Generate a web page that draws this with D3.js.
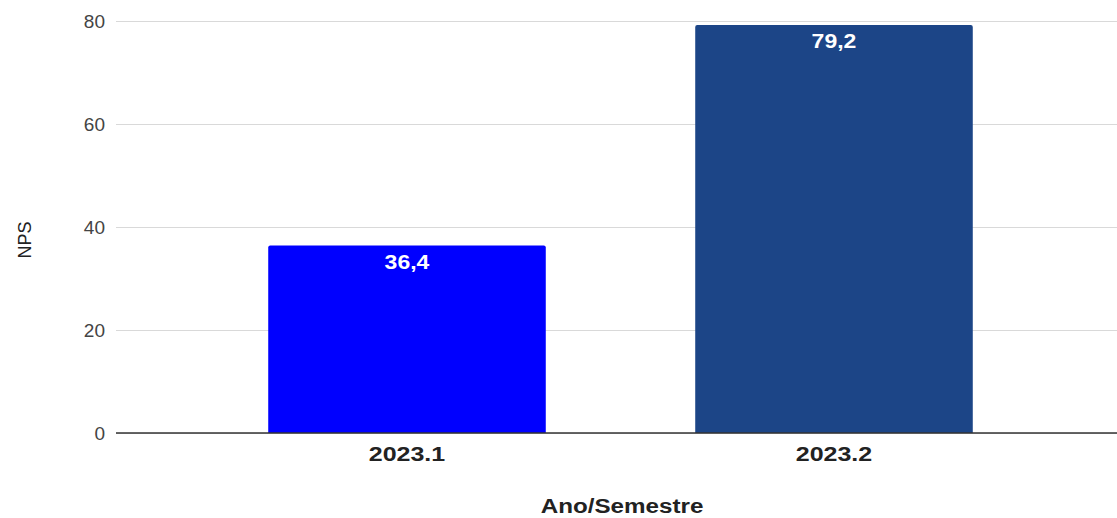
<!DOCTYPE html>
<html>
<head>
<meta charset="utf-8">
<script src="https://cdn.jsdelivr.net/npm/d3@7"></script>
<style>
  body { margin: 0; background: #fff; }
  text { font-family: "Liberation Sans", Arial, sans-serif; }
</style>
</head>
<body>
<div id="chart"></div>
<script>
// data
let categories = ["2023.1", "2023.2"];
let values = [36.4, 79.2];
let labels = ["36,4", "79,2"];
let barColors = ["#0000ff", "#1c4587"];
let yTicks = [0, 20, 40, 60, 80];

let W = 1117, H = 518;
let plot = {left: 116, right: 1117, top: 21, bottom: 433};

let svg = d3.select("#chart")
  .append("svg")
  .attr("width", W)
  .attr("height", H);

let y = d3.scaleLinear()
  .domain([0, 80])
  .range([plot.bottom, plot.top]);

let x = d3.scaleBand()
  .domain(categories)
  .range([193.5, 1047.5])
  .paddingInner(0.35)
  .paddingOuter(0.175);

// gridlines + y labels
let yAxis = svg.append("g")
  .attr("transform", "translate(" + plot.left + ",0)")
  .call(d3.axisLeft(y).tickValues(yTicks).tickSize(-(plot.right - plot.left)).tickPadding(11));
yAxis.select(".domain").remove();
yAxis.selectAll(".tick line").attr("stroke", "#d9d9d9").attr("stroke-width", 1);
yAxis.selectAll(".tick text")
  .attr("fill", "#444")
  .style("font-size", "19px");

// bars with slightly rounded tops
let r = 2;
svg.append("g")
  .selectAll("path")
  .data(values)
  .enter().append("path")
  .attr("d", function (d, i) {
    let x0 = x(categories[i]), x1 = x0 + x.bandwidth();
    let y0 = y(d), y1 = y(0);
    return "M" + x0 + "," + y1 + "L" + x0 + "," + (y0 + r) +
      "Q" + x0 + "," + y0 + " " + (x0 + r) + "," + y0 +
      "L" + (x1 - r) + "," + y0 +
      "Q" + x1 + "," + y0 + " " + x1 + "," + (y0 + r) +
      "L" + x1 + "," + y1 + "Z";
  })
  .style("fill", function (d, i) { return barColors[i]; });

// value labels (text in the reference is a bit stretched sideways)
svg.append("g")
  .selectAll("text")
  .data(values)
  .enter().append("text")
  .attr("transform", function (d, i) {
    return "translate(" + (x(categories[i]) + x.bandwidth() / 2) + "," + (y(d) + 23) + ") scale(1.15,1)";
  })
  .attr("text-anchor", "middle")
  .attr("fill", "#fff")
  .style("font-size", "20px")
  .style("font-weight", "bold")
  .text(function (d, i) { return labels[i]; });

// baseline
svg.append("line")
  .attr("x1", plot.left).attr("x2", plot.right)
  .attr("y1", y(0)).attr("y2", y(0))
  .attr("stroke", "#333").attr("stroke-width", 1.5);

// x axis labels
let xAxis = svg.append("g")
  .attr("transform", "translate(0," + plot.bottom + ")")
  .call(d3.axisBottom(x).tickSize(0).tickPadding(13));
xAxis.select(".domain").remove();
xAxis.selectAll(".tick text")
  .attr("fill", "#222")
  .attr("transform", "scale(1.19,1)")
  .style("font-size", "21px")
  .style("font-weight", "bold");

// axis titles
svg.append("text")
  .attr("transform", "translate(622,513) scale(1.21,1)")
  .attr("text-anchor", "middle")
  .attr("fill", "#222")
  .style("font-size", "20px")
  .style("font-weight", "bold")
  .text("Ano/Semestre");

svg.append("text")
  .attr("transform", "translate(31,240) rotate(-90)")
  .attr("text-anchor", "middle")
  .attr("fill", "#222")
  .style("font-size", "18px")
  .text("NPS");
</script>
</body>
</html>
